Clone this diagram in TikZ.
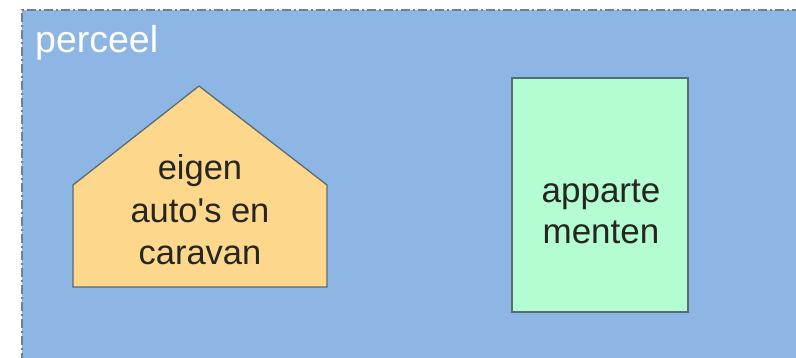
\documentclass[tikz,border=0pt]{standalone}
\usepackage{fontspec}
\setmainfont{Liberation Sans}
\newcommand{\straightapos}{\XeTeXglyph\XeTeXglyphindex "quotesingle"\relax}
\definecolor{plotblue}{RGB}{142,182,228}
\definecolor{plotedge}{RGB}{112,126,142}
\definecolor{housefill}{RGB}{253,216,140}
\definecolor{flatfill}{RGB}{180,252,210}
\definecolor{shapeedge}{RGB}{88,108,118}
\definecolor{inktext}{RGB}{38,38,32}
\tikzset{
  plotarea/.style={draw=plotedge, line width=1.6pt, dash pattern=on 9pt off 3pt on 2pt off 3pt},
  shapebox/.style={draw=shapeedge, line width=1.3pt, line join=miter},
  bigtext/.style={text=inktext, align=center, inner sep=0pt},
}
\begin{document}
\begin{tikzpicture}[x=1pt,y=-1pt]
\useasboundingbox (0,0) rectangle (796,358);
% plot (perceel)
\path[fill=plotblue] (22,10) rectangle (800,362);
\draw[plotarea] (22,362) -- (22,10) -- (800,10);
\node[anchor=base west, font=\fontsize{37.5}{40}\selectfont, text=white, inner sep=0pt] (perceel) at (35,53) {perceel};
% house
\draw[shapebox, fill=housefill] (73,287) -- (73,185) -- (199,86) -- (327,185) -- (327,287) -- cycle;
\node[bigtext, font=\fontsize{34.5}{42.5}\selectfont, anchor=base] (house) at (200,265) {eigen\\auto\straightapos s en\\caravan};
% apartments
\node[shapebox, fill=flatfill, minimum width=176pt, minimum height=234pt, inner sep=0pt] (flats) at (600,195) {};
\node[bigtext, font=\fontsize{35}{41}\selectfont, anchor=base] (flatstext) at (601,244) {apparte\\menten};
\end{tikzpicture}
\end{document}
